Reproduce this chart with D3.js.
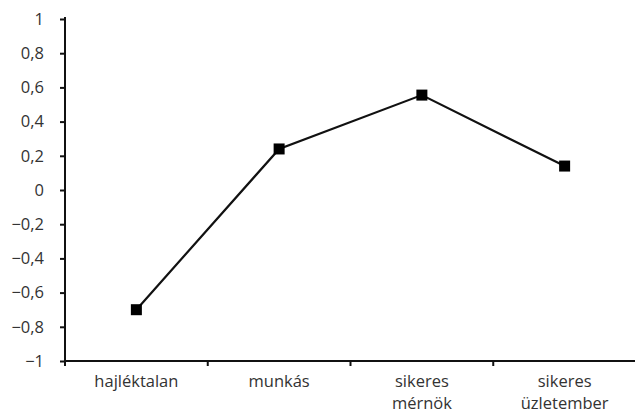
<!DOCTYPE html>
<html><head><meta charset="utf-8">
<script src="https://cdn.jsdelivr.net/npm/d3@7/dist/d3.min.js"></script>
<style>html,body{margin:0;padding:0;background:#fff;}svg{display:block;}</style>
</head><body>
<script>
const categories = [["hajléktalan"], ["munkás"], ["sikeres", "mérnök"], ["sikeres", "üzletember"]];
const values = [-0.7, 0.24, 0.555, 0.14];
const yTicks = [1, 0.8, 0.6, 0.4, 0.2, 0, -0.2, -0.4, -0.6, -0.8, -1];

(function () {
const W = 635, H = 414;
const mL = 65, mR = 636, mT = 19, mB = 361;
const svg = d3.select("body").append("svg").attr("width", W).attr("height", H);

const keys = categories.map(c => c.join(" "));
const x = d3.scaleBand().domain(keys).range([mL, mR]);
const y = d3.scaleLinear().domain([-1, 1]).range([mB, mT]);

const font = "'Open Sans', sans-serif";
const tc = "#333";
const fs = "16.5px";

// Y axis
const ya = svg.append("g").attr("transform", `translate(${mL},0)`)
  .call(d3.axisLeft(y).tickValues(yTicks).tickSize(5).tickPadding(16)
    .tickFormat(d => d3.format("")(d).replace(".", ",").replace("-", "\u2212")));
ya.select(".domain").attr("stroke", "#111").attr("stroke-width", 2).attr("d", `M0,${mT - 2}V${mB}`);
ya.selectAll(".tick line").attr("stroke", "#111").attr("stroke-width", 2);
ya.selectAll(".tick text").attr("fill", tc).style("font-family", font).style("font-size", fs).style("font-weight", 500);

// X axis
const xa = svg.append("g").attr("transform", `translate(0,${mB})`)
  .call(d3.axisBottom(x).tickSize(0).tickFormat(""));
xa.select(".domain").attr("stroke", "#111").attr("stroke-width", 2).attr("d", `M${mL},0H${mR}`);
const bounds = keys.map(k => x(k)).concat([x(keys[keys.length - 1]) + x.bandwidth()]);
xa.selectAll(".bt").data(bounds).enter().append("line").attr("class", "bt")
  .attr("x1", d => d).attr("x2", d => d).attr("y1", 0).attr("y2", 5)
  .attr("stroke", "#111").attr("stroke-width", 2);
categories.forEach((c, i) => {
  const cx = x(keys[i]) + x.bandwidth() / 2;
  const t = svg.append("text").attr("x", cx).attr("y", 387)
    .attr("text-anchor", "middle").attr("fill", tc).style("font-family", font).style("font-size", fs).style("font-weight", 500);
  c.forEach((ln, j) => t.append("tspan").attr("x", cx).attr("dy", j === 0 ? 0 : 22).text(ln));
});

// Line
const line = d3.line().x((d, i) => x(keys[i]) + x.bandwidth() / 2).y(d => y(d));
svg.append("path").datum(values).attr("d", line).attr("fill", "none").attr("stroke", "#111").attr("stroke-width", 2.2);
svg.selectAll(".m").data(values).enter().append("rect").attr("class", "m")
  .attr("x", (d, i) => x(keys[i]) + x.bandwidth() / 2 - 5.5).attr("y", d => y(d) - 5.5)
  .attr("width", 11).attr("height", 11).attr("fill", "#000");
})();
</script>
</body></html>
